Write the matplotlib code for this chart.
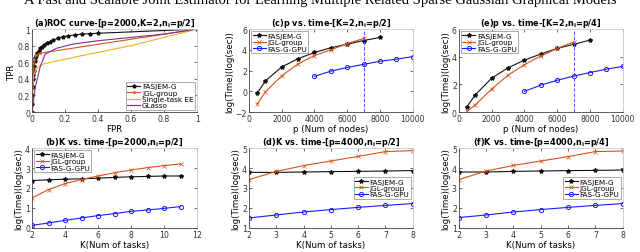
import numpy as np
import matplotlib
matplotlib.use("Agg")
from matplotlib import pyplot as plt
from matplotlib.ticker import FormatStrFormatter

# ---- data ----
# (a) ROC
fas_fpr = [0, 0.001, 0.002, 0.004, 0.006, 0.008, 0.01, 0.013, 0.016, 0.02, 0.025, 0.03, 0.04,
           0.05, 0.06, 0.075, 0.09, 0.11, 0.13, 0.16, 0.19, 0.22, 0.26, 0.3, 0.35, 0.4, 1.0]
fas_tpr = [0, 0.1, 0.2, 0.3, 0.4, 0.45, 0.5, 0.56, 0.61, 0.65, 0.68, 0.71, 0.74,
           0.77, 0.79, 0.81, 0.83, 0.85, 0.87, 0.89, 0.91, 0.92, 0.93, 0.94, 0.945, 0.95, 1.0]
jgl_fpr = [0, 0.003, 0.008, 0.015, 0.025, 0.05, 1.0]
jgl_tpr = [0, 0.3, 0.5, 0.63, 0.69, 0.71, 1.0]
ee_fpr = [0, 0.004, 0.01, 0.03, 0.07, 0.3, 0.6, 1.0]
ee_tpr = [0, 0.3, 0.45, 0.53, 0.58, 0.68, 0.8, 1.0]
gl_fpr = [0, 0.02, 0.05, 0.08, 0.15, 0.25, 0.4, 0.6, 0.8, 1.0]
gl_tpr = [0, 0.3, 0.55, 0.7, 0.77, 0.82, 0.86, 0.9, 0.94, 1.0]

# (c),(e) time vs p
p_fas = [500, 1000, 2000, 3000, 4000, 5000, 6000, 7000, 8000]
p_jgl = [500, 1000, 2000, 3000, 4000, 5000, 6000, 7000]
p_gpu = [4000, 5000, 6000, 7000, 8000, 9000, 10000]
c_fas = [-0.2, 1.0, 2.35, 3.15, 3.75, 4.2, 4.55, 4.9, 5.2]
c_jgl = [-1.25, -0.05, 1.5, 2.65, 3.45, 4.0, 4.6, 5.1]
c_gpu = [1.45, 1.95, 2.3, 2.6, 2.9, 3.1, 3.35]
e_fas = [0.4, 1.24, 2.45, 3.2, 3.76, 4.2, 4.6, 4.9, 5.2]
e_jgl = [0.07, 0.52, 1.67, 2.67, 3.43, 4.05, 4.6, 5.07]
e_gpu = [1.5, 1.95, 2.3, 2.6, 2.86, 3.1, 3.3]
p_cut = 7050

# (b) time vs K, p=2000
k_b = [2, 3, 4, 5, 6, 7, 8, 9, 10, 11]
b_fas = [2.37, 2.41, 2.44, 2.46, 2.49, 2.53, 2.56, 2.58, 2.6, 2.6]
b_jgl = [1.5, 1.92, 2.22, 2.42, 2.6, 2.76, 2.9, 3.02, 3.12, 3.2]
b_gpu = [0.13, 0.25, 0.38, 0.5, 0.62, 0.72, 0.83, 0.9, 0.98, 1.07]

# (d),(f) time vs K, p=4000
k_d = [2, 3, 4, 5, 6, 7, 8]
d_fas = [3.78, 3.78, 3.8, 3.82, 3.83, 3.85, 3.87]
d_jgl = [3.42, 3.83, 4.12, 4.35, 4.58, 4.82, 4.87]
d_gpu = [1.5, 1.65, 1.8, 1.92, 2.03, 2.13, 2.22]
f_fas = [3.8, 3.8, 3.83, 3.85, 3.87, 3.88, 3.9]
f_jgl = [3.42, 3.85, 4.13, 4.35, 4.57, 4.82, 4.85]
f_gpu = [1.52, 1.65, 1.8, 1.92, 2.03, 2.13, 2.22]

BLACK = "#111111"
ORANGE = "#D95319"
YELLOW = "#EDB120"
PURPLE = "#7E2F8E"
BLUE = "#1a1aff"

plt.rcParams["font.family"] = "DejaVu Sans"
fig = plt.figure(figsize=(6.4, 2.53), dpi=100)

fig.text(0.5, 1 - 4 / 253,
         "A Fast and Scalable Joint Estimator for Learning Multiple Related Sparse Gaussian Graphical Models",
         ha="center", va="baseline", fontsize=10.5, family="Liberation Serif")

TICK = 5.6
LAB = 6.2


def style(ax, title):
    for s in ["top", "right"]:
        ax.spines[s].set_color("#cccccc")
    for s in ["left", "bottom"]:
        ax.spines[s].set_color("#444444")
    for s in ax.spines.values():
        s.set_linewidth(0.6)
    ax.tick_params(direction="in", length=2, width=0.5, labelsize=TICK,
                   colors="#333333", pad=1.5, top=True, right=True)
    ax.set_title(title, fontsize=5.9, fontweight="bold", pad=3)


def leg(ax, **kw):
    l = ax.legend(fontsize=5.2, handlelength=1.8, handletextpad=0.2, borderpad=0.2,
                  labelspacing=0.05, borderaxespad=0.3, fancybox=False, framealpha=1, **kw)
    l.get_frame().set_edgecolor("#888888")
    l.get_frame().set_linewidth(0.5)


def labels(ax, xl, yl):
    ax.set_xlabel(xl, fontsize=LAB, labelpad=0.5)
    ax.set_ylabel(yl, fontsize=LAB, labelpad=1)


def timing(ax, x1, y1, x2, y2, x3, y3):
    ax.plot(x1, y1, color=BLACK, marker="*", ms=3, lw=0.8, label="FASJEM-G")
    ax.plot(x2, y2, color=ORANGE, marker="x", ms=2.2, mew=0.5, lw=0.8, label="JGL-group")
    ax.plot(x3, y3, color=BLUE, marker="o", ms=3, mfc="none", mew=0.7, lw=0.8,
            label="FAS-G-GPU")


W1, W2 = 0.258, 0.256
L = [0.05, 0.389, 0.717]
B_TOP, H_TOP = 0.553, 0.328
B_BOT, H_BOT = 0.095, 0.316
YT = "log(Time)(log(sec))"

# (a)
ax = fig.add_axes([L[0], B_TOP, W1, H_TOP])
ax.plot(fas_fpr, fas_tpr, color=BLACK, marker="*", ms=2.8, lw=0.8, label="FASJEM-G")
ax.plot(jgl_fpr, jgl_tpr, color=ORANGE, marker=".", ms=2, lw=0.8, label="JGL-group")
ax.plot(ee_fpr, ee_tpr, color=YELLOW, lw=0.8, label="Single-task EE")
ax.plot(gl_fpr, gl_tpr, color=PURPLE, lw=0.8, label="GLasso")
ax.set_xlim(0, 1)
ax.set_ylim(0, 1)
ax.set_xticks(np.arange(0, 1.01, 0.2))
ax.set_yticks(np.arange(0, 1.01, 0.2))
ax.xaxis.set_major_formatter(FormatStrFormatter("%g"))
ax.yaxis.set_major_formatter(FormatStrFormatter("%g"))
labels(ax, "FPR", "TPR")
style(ax, r"(a)ROC curve-[p=2000,K=2,n$_{\mathbf{i}}$=p/2]")
leg(ax, loc="lower right")

# (c)
ax = fig.add_axes([L[1], B_TOP, W2, H_TOP])
timing(ax, p_fas, c_fas, p_jgl, c_jgl, p_gpu, c_gpu)
ax.axvline(p_cut, color="#5555ff", ls="--", lw=0.7)
ax.set_xlim(0, 10000)
ax.set_ylim(-2, 6)
ax.set_xticks(range(0, 10001, 2000))
ax.set_yticks(range(-2, 7, 2))
labels(ax, "p (Num of nodes)", YT)
style(ax, r"(c)p vs. time-[K=2,n$_{\mathbf{i}}$=p/2]")
leg(ax, loc="upper left")

# (e)
ax = fig.add_axes([L[2], B_TOP, W2, H_TOP])
timing(ax, p_fas, e_fas, p_jgl, e_jgl, p_gpu, e_gpu)
ax.axvline(p_cut, color="#5555ff", ls="--", lw=0.7)
ax.set_xlim(0, 10000)
ax.set_ylim(0, 6)
ax.set_xticks(range(0, 10001, 2000))
ax.set_yticks(range(0, 7, 2))
labels(ax, "p (Num of nodes)", YT)
style(ax, r"(e)p vs. time-[K=2,n$_{\mathbf{i}}$=p/4]")
leg(ax, loc="upper left")

# (b)
ax = fig.add_axes([L[0], B_BOT, W1, H_BOT])
timing(ax, k_b, b_fas, k_b, b_jgl, k_b, b_gpu)
ax.set_xlim(2, 12)
ax.set_ylim(0, 4)
ax.set_xticks(range(2, 13, 2))
ax.set_yticks(range(0, 5))
labels(ax, "K(Num of tasks)", YT)
style(ax, r"(b)K vs. time-[p=2000,n$_{\mathbf{i}}$=p/2]")
leg(ax, loc="upper left")

# (d)
ax = fig.add_axes([L[1], B_BOT, W2, H_BOT])
timing(ax, k_d, d_fas, k_d, d_jgl, k_d, d_gpu)
ax.set_xlim(2, 8)
ax.set_ylim(1, 5)
ax.set_xticks(range(2, 9))
ax.set_yticks(range(1, 6))
labels(ax, "K(Num of tasks)", YT)
style(ax, r"(d)K vs. time-[p=4000,n$_{\mathbf{i}}$=p/2]")
leg(ax, loc="center right", bbox_to_anchor=(1.0, 0.5))

# (f)
ax = fig.add_axes([L[2], B_BOT, W2, H_BOT])
timing(ax, k_d, f_fas, k_d, f_jgl, k_d, f_gpu)
ax.set_xlim(2, 8)
ax.set_ylim(1, 5)
ax.set_xticks(range(2, 9))
ax.set_yticks(range(1, 6))
labels(ax, "K(Num of tasks)", YT)
style(ax, r"(f)K vs. time-[p=4000,n$_{\mathbf{i}}$=p/4]")
leg(ax, loc="center right", bbox_to_anchor=(1.0, 0.5))

fig.savefig("out.png", dpi=100)
